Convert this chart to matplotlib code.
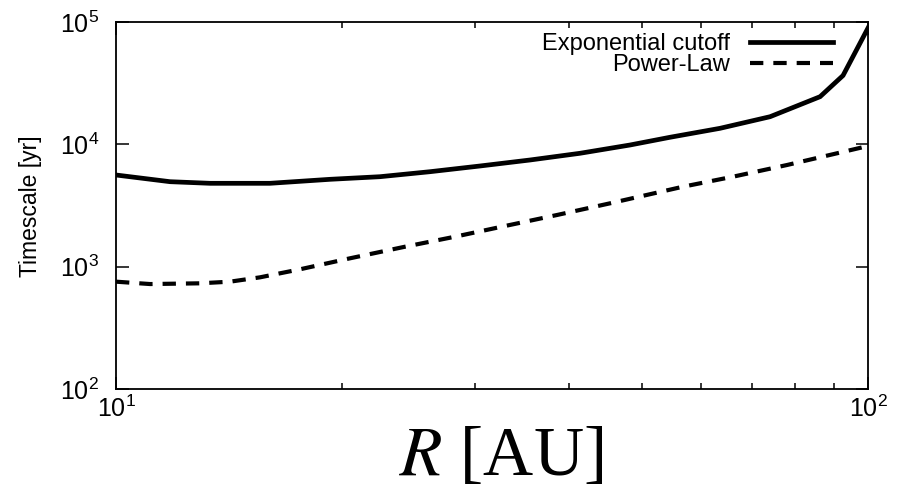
import math

import matplotlib
matplotlib.use("Agg")
import matplotlib.pyplot as plt
from matplotlib.ticker import FixedLocator, FuncFormatter, NullLocator, NullFormatter

# Timescale vs radius for the two surface-density profiles
r_exp = [10.0, 11.8, 13.34, 16.02, 19.26, 22.44, 26.16, 30.48, 35.52, 41.40,
         48.25, 54.54, 63.57, 74.09, 86.35, 92.64, 100.0]
t_exp = [5615, 4950, 4802, 4802, 5177, 5438, 5975, 6652, 7446, 8449,
         9874, 11420, 13520, 16820, 24520, 36530, 89300]

r_pl = [10.0, 11.10, 12.93, 14.18, 15.54, 17.57, 20.48, 24.23, 28.24, 32.91,
        38.59, 45.39, 56.75, 66.14, 78.03, 90.95, 100.0]
t_pl = [754, 721, 731, 754, 818, 952, 1171, 1456, 1758, 2150,
        2645, 3295, 4504, 5438, 6776, 8449, 9690]

labels = ["Exponential cutoff", "Power-Law"]
x_major = [10, 100]
x_minor = [20, 30, 40, 50, 60, 70, 80, 90]
y_major = [1e2, 1e3, 1e4, 1e5]

plt.rcParams["font.family"] = ["Liberation Sans", "DejaVu Sans"]
plt.rcParams["mathtext.default"] = "regular"

fig = plt.figure(figsize=(8.98, 4.90), dpi=100)
ax = fig.add_axes([116 / 898, 101 / 490, 752 / 898, 367 / 490])

ax.plot(r_exp, t_exp, color="black", linewidth=3.4, solid_joinstyle="miter",
        label=labels[0])
ax.plot(r_pl, t_pl, color="black", linewidth=3.0, linestyle=(0, (3.2, 2.4)),
        label=labels[1])

ax.set_xscale("log")
ax.set_yscale("log")
ax.set_xlim(10, 100)
ax.set_ylim(1e2, 1e5)

ax.xaxis.set_major_locator(FixedLocator(x_major))
ax.xaxis.set_minor_locator(FixedLocator(x_minor))
ax.xaxis.set_minor_formatter(NullFormatter())
ax.yaxis.set_major_locator(FixedLocator(y_major))
ax.yaxis.set_minor_locator(NullLocator())

fmt = FuncFormatter(lambda v, pos: r"$10^{%d}$" % round(math.log10(v)))
ax.xaxis.set_major_formatter(fmt)
ax.yaxis.set_major_formatter(fmt)

ax.tick_params(which="both", direction="in", top=True, right=True,
               width=1.1, colors="black")
ax.tick_params(which="major", length=9, labelsize=18)
ax.tick_params(which="minor", length=4.5)
ax.tick_params(axis="y", pad=12)
ax.tick_params(axis="x", pad=5)

for spine in ax.spines.values():
    spine.set_linewidth(1.3)

fig.text(30 / 898, 1 - 206 / 490, "Timescale [yr]", rotation=90,
         ha="center", va="center", fontsize=16.5)

fig.text(501 / 898, 15 / 490, r"$\mathit{R}$ [AU]", ha="center", va="baseline",
         fontsize=50, family="Liberation Serif", math_fontfamily="stix")

ax.legend(loc="upper right", bbox_to_anchor=((833 - 116) / 752, (389 - 33) / 367),
          frameon=False, markerfirst=False, fontsize=17, handlelength=3.5,
          handletextpad=0.85, labelspacing=-0.03, borderpad=0, borderaxespad=0)

fig.savefig("out.png", dpi=100, facecolor="white")
